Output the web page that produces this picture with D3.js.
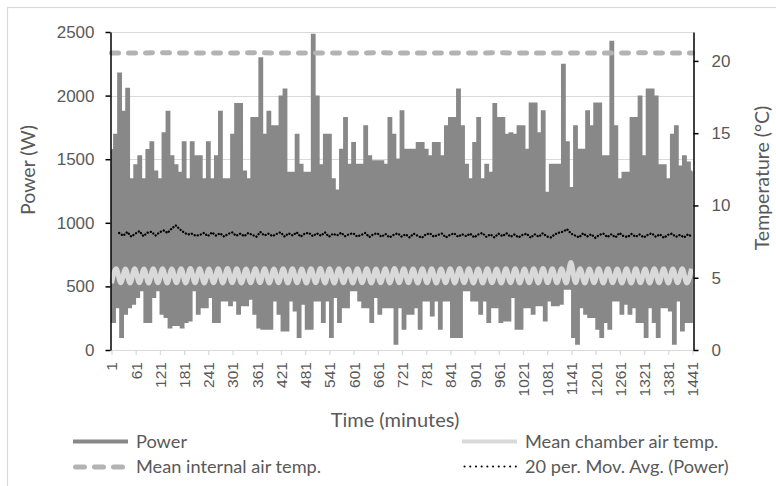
<!DOCTYPE html>
<html><head><meta charset="utf-8">
<script src="https://cdn.jsdelivr.net/npm/d3@7"></script>
<style>
body{margin:0;background:#fff;}
svg{display:block;font-family:Lato,'Open Sans',sans-serif;}
</style>
</head><body>
<svg id="chart" width="776" height="486"></svg>
<script>
// ---------------- DATA ----------------
const timeTickLabels = ["1","61","121","181","241","301","361","421","481","541","601","661","721","781","841","901","961","1021","1081","1141","1201","1261","1321","1381","1441"];
const powerTicks = [0,500,1000,1500,2000,2500];
const tempTicks = [0,5,10,15,20];

// Power (W): peak readings at minutes 1,11,21,...,1441
const powerPeakW = [
 1570,1690,2170,1870,2050,1340,1450,1520,1340,1570,
 1630,1400,1340,1700,1870,1520,1450,1390,1630,1340,
 1630,1520,1520,1340,1630,1340,1520,1870,1340,1340,
 1690,1930,1930,1400,1340,1820,1820,2290,1690,1870,
 1756,1756,1990,2044,1390,1390,1690,1454,1390,1390,
 2476,1990,1450,1690,1690,1340,1250,1572,1820,1454,
 1625,1454,1454,1756,1520,1480,1480,1480,1454,1820,
 1690,1494,1873,1572,1572,1572,1625,1625,1572,1520,
 1625,1625,1520,1756,1820,1820,2044,1756,1454,1340,
 1625,1820,1340,1454,1390,1930,1820,1820,1690,1700,
 1690,1756,1756,1572,1935,1935,1700,1873,1233,1454,
 1454,1454,2240,1630,1270,1756,1572,1572,1873,1756,
 1935,1935,1520,1520,2420,1756,1340,1390,1390,1820,
 1820,1990,1520,2044,2044,1990,1450,1450,1340,1690,
 1756,1440,1520,1470,1400
];
// Power (W): trough readings at minutes 6,16,26,...,1436
const powerTroughW = [
 223,340,105,288,340,367,420,472,223,223,
 420,472,288,262,180,200,200,180,223,236,
 472,288,340,340,420,223,223,393,393,354,
 393,288,354,354,406,288,180,170,170,170,
 393,288,157,157,393,314,105,367,170,170,
 393,393,223,393,105,420,223,340,340,472,
 472,393,340,340,223,420,288,340,340,340,
 52,340,170,288,288,340,170,393,393,275,
 393,170,393,393,105,105,105,472,472,393,
 393,288,393,223,340,340,223,236,236,420,
 170,170,340,340,288,354,354,236,393,354,
 354,367,485,485,105,52,340,288,262,262,
 170,105,223,170,393,393,288,367,288,340,
 223,223,105,340,223,105,340,340,314,52,
 393,157,223,223
];
// 20 per. moving average of power (W), minutes 20,30,...,1440
const movAvgW = [
 920,898,928,892,915,935,895,922,930,900,
 925,940,920,955,980,950,925,908,915,898,
 905,920,895,925,900,918,892,912,925,898,
 915,895,920,905,890,928,900,915,895,912,
 925,892,918,900,925,890,915,922,895,918,
 898,925,890,915,900,922,895,910,918,892,
 905,920,888,910,918,890,912,885,905,918,
 892,910,885,915,898,882,908,918,890,905,
 915,885,905,918,890,910,895,915,885,908,
 920,890,910,885,915,895,918,890,908,885,
 905,915,882,910,890,918,892,885,910,922,
 930,950,915,900,885,918,892,910,882,905,
 915,888,910,885,920,895,888,912,890,908,
 885,905,918,890,910,882,905,915,890,905,
 885,910,890
];
// Mean chamber air temp (°C): alternating troughs/peaks every 11.5 minutes from minute 1
const chamberTempC = [
 4.62,5.62,4.66,5.60,4.64,5.62,4.66,5.60,4.64,5.62,4.66,5.62,4.64,5.60,4.66,5.62,
 4.64,5.64,4.66,5.62,4.64,5.60,4.66,5.62,4.64,5.64,4.66,5.62,4.64,5.60,4.66,5.62,
 4.66,5.62,4.64,5.60,4.66,5.62,4.64,5.62,4.66,5.60,4.64,5.62,4.66,5.64,4.64,5.62,
 4.64,5.62,4.66,5.60,4.64,5.62,4.66,5.62,4.64,5.60,4.66,5.62,4.64,5.64,4.66,5.62,
 4.66,5.60,4.64,5.62,4.66,5.62,4.64,5.60,4.66,5.62,4.64,5.64,4.66,5.62,4.64,5.60,
 4.64,5.62,4.66,5.60,4.64,5.62,4.66,5.62,4.64,5.60,4.66,5.62,4.64,5.64,4.66,5.62,
 4.66,5.62,4.64,6.05,4.66,5.62,4.64,5.60,4.66,5.62,4.64,5.62,4.66,5.60,4.64,5.62,
 4.64,5.62,4.66,5.60,4.64,5.62,4.66,5.62,4.64,5.60,4.66,5.62,4.64,5.62
];
// Mean internal air temp (°C), hourly from minute 1
const internalTempC = [20.55,20.55,20.56,20.55,20.54,20.55,20.56,20.55,20.55,20.54,20.55,20.56,20.55,20.55,20.54,20.55,20.56,20.55,20.55,20.54,20.55,20.55,20.56,20.55,20.55];

// ---------------- BUILD ----------------
const powerSeries = [];
powerPeakW.forEach((v,i)=>{
  powerSeries.push({m:1+10*i, v:v});
  if (i < powerTroughW.length) powerSeries.push({m:6+10*i, v:powerTroughW[i]});
});
const maSeries = movAvgW.map((v,i)=>({m:20+10*i, v:v}));
const chamberSeries = chamberTempC.map((v,i)=>({m:1+11.5*i, v:v}));
const internalSeries = internalTempC.map((v,i)=>({m:1+60*i, v:v}));

const svg = d3.select("#chart");
const L=110.5,R=693.5,T=32,B=350;
const textCol="#595959", gridCol="#d9d9d9";
const powerCol="#888888", chamberCol="#d9d9d9", internalCol="#b3b3b3";

svg.append("rect").attr("x",7.5).attr("y",7.5).attr("width",800).attr("height",500)
  .attr("fill","#fff").attr("stroke","#d9d9d9").attr("stroke-width",1.2);

const x = d3.scaleLinear().domain([1,1441]).range([L+1,R-1]);
const y = d3.scaleLinear().domain([0,2500]).range([B,T]);
const yT = d3.scaleLinear().domain([0,22]).range([B,T]);

// gridlines
svg.append("g").selectAll("line").data(powerTicks.filter(d=>d>0)).join("line")
  .attr("x1",L).attr("x2",R).attr("y1",d=>Math.round(y(d))+0.5).attr("y2",d=>Math.round(y(d))+0.5)
  .attr("stroke",gridCol).attr("stroke-width",1);

// x axis
const xAxis = svg.append("g").attr("transform",`translate(0,${B})`)
  .call(d3.axisBottom(x).tickValues(timeTickLabels.map(Number)).tickFormat((d,i)=>timeTickLabels[i]).tickSize(5).tickSizeOuter(0));
xAxis.select(".domain").attr("stroke",gridCol).attr("stroke-width",1.2);
xAxis.selectAll(".tick line").attr("stroke",gridCol).attr("stroke-width",1.2);
xAxis.selectAll("text").attr("transform","rotate(-90)").attr("x",-12).attr("y",0).attr("dy","0.35em")
  .style("text-anchor","end").attr("fill",textCol).style("font-size","15.5px");

const line = d3.line().x(d=>x(d.m)).y(d=>y(d.v));
const lineT = d3.line().x(d=>x(d.m)).y(d=>yT(d.v));

const plot = svg.append("g");
plot.append("path").datum(powerSeries).attr("d",d3.line().x(d=>x(d.m)).y(d=>y(d.v)).curve(d3.curveStep)).attr("fill","none")
  .attr("stroke",powerCol).attr("stroke-width",2.8).attr("stroke-linejoin","miter");
plot.append("path").datum(chamberSeries).attr("d",lineT.curve(d3.curveMonotoneX)).attr("fill","none")
  .attr("stroke",chamberCol).attr("stroke-width",5);
plot.append("path").datum(internalSeries).attr("d",d3.line().x(d=>x(d.m)).y(d=>yT(d.v))).attr("fill","none")
  .attr("stroke",internalCol).attr("stroke-width",5).attr("stroke-dasharray","7,10").attr("stroke-linecap","round");
plot.append("path").datum(maSeries).attr("d",line).attr("fill","none")
  .attr("stroke","#000").attr("stroke-width",2.3).attr("stroke-dasharray","0.1,3.1").attr("stroke-linecap","round");

// left axis
const yAxisL = svg.append("g").attr("transform",`translate(${L},0)`)
  .call(d3.axisLeft(y).tickValues(powerTicks).tickFormat(d3.format("d")).tickSize(5).tickSizeOuter(0).tickPadding(11));
yAxisL.select(".domain").attr("stroke","#000").attr("stroke-width",1.5);
yAxisL.selectAll(".tick line").attr("stroke","#000").attr("stroke-width",1.5);
yAxisL.selectAll("text").attr("fill",textCol).style("font-size","17px");

// right axis
const yAxisR = svg.append("g").attr("transform",`translate(${R},0)`)
  .call(d3.axisRight(yT).tickValues(tempTicks).tickFormat(d3.format("d")).tickSize(5).tickSizeOuter(0).tickPadding(13));
yAxisR.select(".domain").attr("stroke","#000").attr("stroke-width",1.5);
yAxisR.selectAll(".tick line").attr("stroke","#000").attr("stroke-width",1.5);
yAxisR.selectAll("text").attr("fill",textCol).style("font-size","17px");

// titles
svg.append("text").attr("transform","translate(35,170) rotate(-90)").attr("text-anchor","middle")
  .attr("fill",textCol).style("font-size","19.5px").text("Power (W)");
svg.append("text").attr("transform","translate(769,178) rotate(-90)").attr("text-anchor","middle")
  .attr("fill",textCol).style("font-size","19.5px").text("Temperature (°C)");
svg.append("text").attr("x",395).attr("y",427).attr("text-anchor","middle")
  .attr("fill",textCol).style("font-size","20px").text("Time (minutes)");

// legend
const lg = svg.append("g");
const legendItems = [
  {label:"Power", x:73, y:441.5, stroke:powerCol, w:4, dash:null, cap:"butt"},
  {label:"Mean internal air temp.", x:73, y:467, stroke:internalCol, w:5, dash:"9,10", cap:"round"},
  {label:"Mean chamber air temp.", x:462, y:441.5, stroke:chamberCol, w:4, dash:null, cap:"butt"},
  {label:"20 per. Mov. Avg. (Power)", x:462, y:466.5, stroke:"#000", w:2, dash:"0.1,5.6", cap:"round"}
];
legendItems.forEach(it=>{
  lg.append("line").attr("x1",it.x+(it.cap==="round"?2.5:0)).attr("x2",it.x+55).attr("y1",it.y).attr("y2",it.y)
    .attr("stroke",it.stroke).attr("stroke-width",it.w).attr("stroke-dasharray",it.dash).attr("stroke-linecap",it.cap);
  lg.append("text").attr("x",it.x+63).attr("y",it.y).attr("dy","0.35em").attr("fill",textCol)
    .style("font-size","18.2px").text(it.label);
});
</script>
</body></html>
